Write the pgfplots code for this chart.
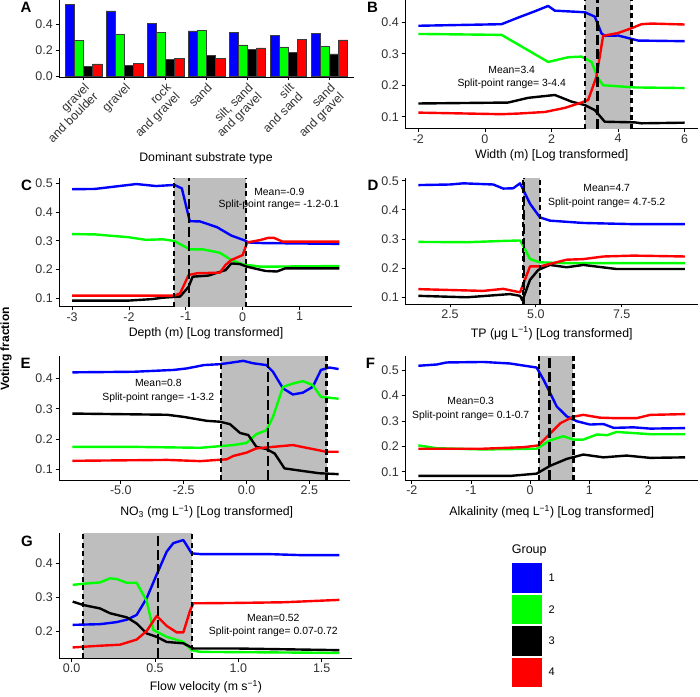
\documentclass[border=0pt]{standalone}
\usepackage{fontspec}
\setmainfont{Liberation Sans}
\usepackage{pgfplots}
\pgfplotsset{compat=1.18}
\definecolor{gblue}{RGB}{0,0,255}
\definecolor{ggreen}{RGB}{0,255,0}
\definecolor{gred}{RGB}{255,0,0}
\definecolor{shade}{RGB}{190,190,190}
\definecolor{tickgray}{RGB}{50,50,50}
\definecolor{barline}{RGB}{60,60,60}
\newcommand{\tfont}{\fontsize{12.5}{13.5}\selectfont}
\newcommand{\lfont}{\fontsize{12.3}{14}\selectfont}
\newcommand{\afont}{\fontsize{10.4}{12}\selectfont}
\newcommand{\pfont}{\fontsize{15}{16}\selectfont\bfseries}
\pgfplotsset{
 panel/.style={scale only axis, axis lines*=left, tick align=outside,
   major tick length=3.5pt, axis line style={line width=0.8pt, black},
   tick style={line width=0.8pt, black},
   tick label style={font=\tfont, text=tickgray},
   xticklabel style={inner sep=2pt}, yticklabel style={inner sep=2.5pt}},
 s1/.style={gblue, line width=2.4pt, line join=round},
 s2/.style={ggreen, line width=2.4pt, line join=round},
 s3/.style={black, line width=2.4pt, line join=round},
 s4/.style={gred, line width=2.4pt, line join=round},
 sh/.style={fill=shade, draw=none},
 vs/.style={black, line width=2.3pt, dash pattern=on 5pt off 3.5pt},
 vl/.style={black, line width=2.3pt, dash pattern=on 10pt off 4pt},
}
\begin{document}
\begin{tikzpicture}
\useasboundingbox (0,0) rectangle (700pt,696pt);
% ---------------- A
\begin{axis}[panel, at={(59pt,619pt)}, anchor=south west, width=295pt, height=77pt,
  xmin=0.4, xmax=7.6, ymin=-0.005, ymax=0.587, ybar=0pt, bar width=9.2pt,
  xtick={1,2,3,4,5,6,7},
  xticklabels={{gravel\\and boulder},{gravel},{rock\\and gravel},{sand},{silt, sand\\and gravel},{silt\\and sand},{sand\\and gravel}},
  xticklabel style={rotate=45, anchor=north east, align=right, inner sep=1pt, font=\fontsize{12.3}{12.5}\selectfont},
  ytick={0,0.2,0.4}, yticklabels={0.0,0.2,0.4}]
\addplot[fill=gblue, draw=barline, line width=0.8pt, bar shift=-13.8pt] coordinates {(1,0.556) (2,0.503) (3,0.405) (4,0.349) (5,0.336) (6,0.315) (7,0.331)};
\addplot[fill=ggreen, draw=barline, line width=0.8pt, bar shift=-4.6pt] coordinates {(1,0.274) (2,0.320) (3,0.336) (4,0.356) (5,0.241) (6,0.226) (7,0.231)};
\addplot[fill=black, draw=barline, line width=0.8pt, bar shift=4.6pt] coordinates {(1,0.079) (2,0.082) (3,0.131) (4,0.164) (5,0.210) (6,0.185) (7,0.172)};
\addplot[fill=gred, draw=barline, line width=0.8pt, bar shift=13.8pt] coordinates {(1,0.095) (2,0.097) (3,0.136) (4,0.138) (5,0.218) (6,0.282) (7,0.280)};
\end{axis}
% ---------------- B
\begin{axis}[panel, at={(405pt,567.3pt)}, anchor=south west, width=293pt, height=128.7pt,
  xmin=-2.4, xmax=6.4, ymin=0.0619, ymax=0.4709,
  xtick={-2,0,2,4,6}, xticklabels={-2,0,2,4,6},
  ytick={0.1,0.2,0.3,0.4}, yticklabels={0.1,0.2,0.3,0.4}]
\addplot[sh] coordinates {(3,0.0619) (4.4,0.0619) (4.4,0.4709) (3,0.4709)};
\addplot[s1] coordinates {(-2,0.389) (0.5,0.394) (1.0,0.415) (1.5,0.435) (1.9,0.452) (2.1,0.437) (3.0,0.432) (3.3,0.418) (3.5,0.365) (3.6,0.357) (4.0,0.358) (4.3,0.35) (4.6,0.342) (6,0.34)};
\addplot[s2] coordinates {(-2,0.363) (0.5,0.36) (1.2,0.317) (1.9,0.274) (2.5,0.289) (2.9,0.291) (3.2,0.274) (3.4,0.222) (3.55,0.2) (4.5,0.193) (6,0.191)};
\addplot[s3] coordinates {(-2,0.142) (0.7,0.145) (1.3,0.16) (2.1,0.169) (2.6,0.148) (3.0,0.137) (3.3,0.121) (3.6,0.084) (4.5,0.082) (4.7,0.079) (6,0.081)};
\addplot[s4] coordinates {(-2,0.113) (0.5,0.108) (1.0,0.11) (1.8,0.115) (2.4,0.128) (2.9,0.145) (3.1,0.153) (3.35,0.227) (3.55,0.357) (4.0,0.366) (4.4,0.381) (4.7,0.394) (5.0,0.396) (6,0.393)};
\addplot[vs] coordinates {(3,0.0619) (3,0.4709)};
\addplot[vl] coordinates {(3.38,0.0619) (3.38,0.4709)};
\addplot[vs] coordinates {(4.4,0.0619) (4.4,0.4709)};
\end{axis}
% ---------------- C
\begin{axis}[panel, at={(59pt,389.3pt)}, anchor=south west, width=293.4pt, height=128.4pt,
  xmin=-3.23, xmax=1.93, ymin=0.0707, ymax=0.517,
  xtick={-3,-2,-1,0,1}, xticklabels={-3,-2,-1,0,1},
  ytick={0.1,0.2,0.3,0.4,0.5}, yticklabels={0.1,0.2,0.3,0.4,0.5}]
\addplot[sh] coordinates {(-1.21,0.0707) (0.063,0.0707) (0.063,0.517) (-1.21,0.517)};
\addplot[s1] coordinates {(-3,0.479) (-2.6,0.48) (-1.87,0.497) (-1.52,0.49) (-1.2,0.494) (-1.07,0.482) (-0.93,0.368) (-0.75,0.367) (-0.45,0.347) (-0.2,0.318) (0.05,0.3) (0.1,0.294) (0.3,0.292) (1.7,0.289)};
\addplot[s2] coordinates {(-3,0.323) (-2.6,0.322) (-2.0,0.312) (-1.7,0.303) (-1.4,0.305) (-1.2,0.299) (-0.93,0.27) (-0.7,0.27) (-0.4,0.258) (-0.2,0.233) (0.0,0.218) (0.3,0.21) (0.5,0.21) (1.7,0.212)};
\addplot[s3] coordinates {(-3,0.092) (-2.0,0.092) (-1.6,0.097) (-1.4,0.102) (-1.1,0.106) (-0.95,0.14) (-0.88,0.175) (-0.6,0.179) (-0.3,0.198) (-0.2,0.221) (-0.05,0.219) (0.07,0.21) (0.4,0.195) (0.6,0.193) (0.75,0.204) (1.7,0.204)};
\addplot[s4] coordinates {(-3,0.109) (-1.2,0.109) (-1.1,0.117) (-0.95,0.181) (-0.8,0.187) (-0.4,0.189) (-0.3,0.216) (-0.2,0.233) (0.0,0.25) (0.08,0.294) (0.3,0.302) (0.45,0.31) (0.55,0.31) (0.7,0.297) (1.7,0.297)};
\addplot[vs] coordinates {(-1.21,0.0707) (-1.21,0.517)};
\addplot[vl] coordinates {(-0.947,0.0707) (-0.947,0.517)};
\addplot[vs] coordinates {(0.063,0.0707) (0.063,0.517)};
\end{axis}
% ---------------- D
\begin{axis}[panel, at={(405pt,392pt)}, anchor=south west, width=293.3pt, height=126.2pt,
  xmin=1.19, xmax=9.73, ymin=0.077, ymax=0.51,
  xtick={2.5,5,7.5}, xticklabels={2.5,5.0,7.5},
  ytick={0.1,0.2,0.3,0.4,0.5}, yticklabels={0.1,0.2,0.3,0.4,0.5}]
\addplot[sh] coordinates {(4.62,0.077) (5.12,0.077) (5.12,0.51) (4.62,0.51)};
\addplot[s1] coordinates {(1.58,0.485) (2.5,0.487) (2.89,0.491) (3.76,0.487) (4.05,0.473) (4.34,0.474) (4.54,0.491) (4.64,0.467) (4.83,0.421) (5.12,0.374) (5.41,0.363) (6.38,0.355) (7.84,0.351) (9.34,0.351)};
\addplot[s2] coordinates {(1.58,0.29) (3.0,0.289) (3.96,0.293) (4.54,0.295) (4.64,0.275) (4.83,0.231) (5.12,0.22) (5.9,0.217) (9.34,0.217)};
\addplot[s3] coordinates {(1.58,0.105) (2.99,0.1) (4.25,0.111) (4.54,0.105) (4.61,0.089) (4.83,0.16) (5.07,0.194) (5.41,0.211) (5.9,0.203) (6.38,0.211) (7.35,0.197) (9.34,0.197)};
\addplot[s4] coordinates {(1.58,0.128) (2.5,0.125) (3.47,0.122) (4.05,0.129) (4.54,0.117) (4.83,0.206) (5.12,0.206) (5.9,0.229) (6.38,0.231) (6.97,0.24) (7.84,0.243) (9.34,0.24)};
\addplot[vs] coordinates {(4.62,0.077) (4.62,0.51)};
\addplot[vl] coordinates {(4.66,0.077) (4.66,0.51)};
\addplot[vs] coordinates {(5.12,0.077) (5.12,0.51)};
\end{axis}
% ---------------- E
\begin{axis}[panel, at={(59pt,216pt)}, anchor=south west, width=291.4pt, height=124pt,
  xmin=-7.46, xmax=4.13, ymin=0.0647, ymax=0.474,
  xtick={-5,-2.5,0,2.5}, xticklabels={-5.0,-2.5,0.0,2.5},
  ytick={0.1,0.2,0.3,0.4}, yticklabels={0.1,0.2,0.3,0.4}]
\addplot[sh] coordinates {(-1.03,0.0647) (3.18,0.0647) (3.18,0.474) (-1.03,0.474)};
\addplot[s1] coordinates {(-6.93,0.42) (-4.47,0.422) (-2.9,0.428) (-2.37,0.433) (-1.7,0.444) (-1.05,0.447) (-0.53,0.453) (-0.13,0.458) (0.26,0.45) (0.79,0.444) (1.05,0.422) (1.45,0.367) (1.84,0.347) (2.24,0.353) (2.63,0.372) (2.96,0.428) (3.29,0.436) (3.66,0.431)};
\addplot[s2] coordinates {(-6.93,0.174) (-4.47,0.174) (-1.84,0.171) (-0.53,0.18) (0,0.187) (0.39,0.216) (0.79,0.229) (1.05,0.273) (1.45,0.372) (1.84,0.383) (2.24,0.391) (2.63,0.378) (2.96,0.339) (3.66,0.333)};
\addplot[s3] coordinates {(-6.93,0.284) (-3.16,0.28) (-2.5,0.273) (-1.58,0.26) (-1.05,0.257) (-0.66,0.249) (-0.26,0.22) (0.07,0.213) (0.39,0.174) (0.79,0.167) (1.12,0.152) (1.51,0.103) (2.1,0.096) (2.89,0.087) (3.66,0.084)};
\addplot[s4] coordinates {(-6.93,0.128) (-3.16,0.131) (-1.84,0.127) (-0.79,0.133) (-0.53,0.144) (0,0.155) (0.39,0.169) (1.05,0.174) (1.84,0.18) (2.5,0.169) (3.16,0.158) (3.66,0.158)};
\addplot[vs] coordinates {(-1.03,0.0647) (-1.03,0.474)};
\addplot[vl] coordinates {(0.855,0.0647) (0.855,0.474)};
\addplot[vs] coordinates {(3.18,0.0647) (3.18,0.474)};
\end{axis}
% ---------------- F
\begin{axis}[panel, at={(405pt,216pt)}, anchor=south west, width=293.4pt, height=124.4pt,
  xmin=-2.115, xmax=2.845, ymin=0.068, ymax=0.557,
  xtick={-2,-1,0,1,2}, xticklabels={-2,-1,0,1,2},
  ytick={0.1,0.2,0.3,0.4,0.5}, yticklabels={0.1,0.2,0.3,0.4,0.5}]
\addplot[sh] coordinates {(0.152,0.068) (0.732,0.068) (0.732,0.557) (0.152,0.557)};
\addplot[s1] coordinates {(-1.89,0.517) (-1.58,0.522) (-1.41,0.53) (-0.79,0.532) (-0.34,0.526) (0.11,0.51) (0.23,0.461) (0.34,0.409) (0.45,0.357) (0.62,0.318) (0.79,0.299) (1.01,0.286) (1.24,0.288) (1.41,0.273) (1.75,0.275) (2.03,0.27) (2.62,0.272)};
\addplot[s2] coordinates {(-1.89,0.204) (-1.58,0.193) (-0.79,0.188) (0.11,0.191) (0.34,0.224) (0.56,0.24) (0.73,0.227) (0.9,0.227) (1.13,0.247) (1.3,0.244) (1.46,0.257) (2.03,0.248) (2.62,0.248)};
\addplot[s3] coordinates {(-1.89,0.084) (-0.34,0.084) (0.11,0.093) (0.34,0.124) (0.62,0.151) (0.9,0.168) (1.24,0.157) (1.63,0.164) (2.03,0.155) (2.62,0.157)};
\addplot[s4] coordinates {(-1.89,0.191) (-0.79,0.191) (-0.11,0.197) (0.14,0.204) (0.34,0.251) (0.51,0.291) (0.73,0.317) (0.9,0.324) (1.18,0.313) (1.46,0.311) (1.8,0.311) (2.03,0.324) (2.62,0.327)};
\addplot[vs] coordinates {(0.152,0.068) (0.152,0.557)};
\addplot[vl] coordinates {(0.327,0.068) (0.327,0.557)};
\addplot[vs] coordinates {(0.732,0.068) (0.732,0.557)};
\end{axis}
% ---------------- G
\begin{axis}[panel, at={(59pt,37.7pt)}, anchor=south west, width=292.7pt, height=125pt,
  xmin=-0.076, xmax=1.68, ymin=0.1222, ymax=0.4877,
  xtick={0,0.5,1,1.5}, xticklabels={0.0,0.5,1.0,1.5},
  ytick={0.2,0.3,0.4}, yticklabels={0.2,0.3,0.4}]
\addplot[sh] coordinates {(0.07,0.1222) (0.72,0.1222) (0.72,0.4877) (0.07,0.4877)};
\addplot[s1] coordinates {(0.006,0.22) (0.17,0.222) (0.27,0.228) (0.33,0.235) (0.39,0.249) (0.45,0.298) (0.51,0.367) (0.57,0.434) (0.61,0.459) (0.67,0.468) (0.72,0.429) (0.77,0.427) (1.17,0.427) (1.37,0.424) (1.606,0.424)};
\addplot[s2] coordinates {(0.006,0.337) (0.09,0.341) (0.17,0.344) (0.23,0.356) (0.27,0.354) (0.33,0.343) (0.39,0.343) (0.45,0.29) (0.49,0.205) (0.57,0.185) (0.67,0.17) (0.72,0.146) (0.77,0.141) (1.606,0.138)};
\addplot[s3] coordinates {(0.006,0.288) (0.07,0.278) (0.17,0.268) (0.23,0.254) (0.33,0.242) (0.39,0.224) (0.45,0.195) (0.51,0.185) (0.57,0.17) (0.67,0.166) (0.73,0.151) (0.97,0.151) (1.606,0.146)};
\addplot[s4] coordinates {(0.006,0.154) (0.17,0.159) (0.29,0.162) (0.39,0.177) (0.45,0.202) (0.51,0.246) (0.57,0.217) (0.63,0.198) (0.67,0.198) (0.71,0.261) (0.73,0.283) (0.97,0.284) (1.27,0.286) (1.606,0.293)};
\addplot[vs] coordinates {(0.07,0.1222) (0.07,0.4877)};
\addplot[vl] coordinates {(0.516,0.1222) (0.516,0.4877)};
\addplot[vs] coordinates {(0.72,0.1222) (0.72,0.4877)};
\end{axis}
% ---------------- texts
\node[font=\pfont] at (26pt,689pt) {A};
\node[font=\pfont] at (372.5pt,689pt) {B};
\node[font=\pfont] at (26.5pt,511pt) {C};
\node[font=\pfont] at (373pt,511pt) {D};
\node[font=\pfont] at (25.7pt,333pt) {E};
\node[font=\pfont] at (370.5pt,333pt) {F};
\node[font=\pfont] at (27pt,155pt) {G};
\node[font=\lfont] at (206pt,538pt) {Dominant substrate type};
\node[font=\lfont] at (551.7pt,541pt) {Width (m) [Log transformed]};
\node[font=\lfont] at (206pt,362.7pt) {Depth (m) [Log transformed]};
\node[font=\lfont] at (551.7pt,362.7pt) {TP (μg L\textsuperscript{−1}) [Log transformed]};
\node[font=\lfont] at (206.7pt,184.3pt) {NO\textsubscript{3} (mg L\textsuperscript{−1}) [Log transformed]};
\node[font=\lfont] at (551.7pt,184.3pt) {Alkalinity (meq L\textsuperscript{−1}) [Log transformed]};
\node[font=\lfont] at (206pt,9.3pt) {Flow velocity (m s\textsuperscript{−1})};
\node[font=\afont] at (511.7pt,626.3pt) {Mean=3.4};
\node[font=\afont] at (511.7pt,612pt) {Split-point range= 3-4.4};
\node[font=\afont] at (279.3pt,504.3pt) {Mean=-0.9};
\node[font=\afont] at (279pt,491pt) {Split-point range= -1.2-0.1};
\node[font=\afont] at (606.7pt,507.7pt) {Mean=4.7};
\node[font=\afont] at (606.7pt,493.3pt) {Split-point range= 4.7-5.2};
\node[font=\afont] at (158.3pt,312.7pt) {Mean=0.8};
\node[font=\afont] at (158.3pt,297.7pt) {Split-point range= -1-3.2};
\node[font=\afont] at (470.7pt,295pt) {Mean=0.3};
\node[font=\afont] at (470.7pt,280pt) {Split-point range= 0.1-0.7};
\node[font=\afont] at (273.3pt,77.7pt) {Mean=0.52};
\node[font=\afont] at (273.3pt,64.3pt) {Split-point range= 0.07-0.72};
\node[font=\fontsize{12}{13}\selectfont\bfseries, rotate=90] at (6pt,347pt) {Voting fraction};
% legend
\node[font=\fontsize{12.5}{14}\selectfont, anchor=west, inner sep=0pt] at (511.7pt,146pt) {Group};
\fill[gblue] (511.7pt,103.3pt) rectangle (541.7pt,132.7pt);
\fill[ggreen] (511.7pt,72pt) rectangle (541.7pt,101pt);
\fill[black] (511.7pt,40.3pt) rectangle (541.7pt,69.7pt);
\fill[gred] (511.7pt,9.3pt) rectangle (541.7pt,38.3pt);
\node[font=\fontsize{11}{12}\selectfont] at (551.7pt,118pt) {1};
\node[font=\fontsize{11}{12}\selectfont] at (551.7pt,86.5pt) {2};
\node[font=\fontsize{11}{12}\selectfont] at (551.7pt,55pt) {3};
\node[font=\fontsize{11}{12}\selectfont] at (551.7pt,23.8pt) {4};
\end{tikzpicture}
\end{document}
